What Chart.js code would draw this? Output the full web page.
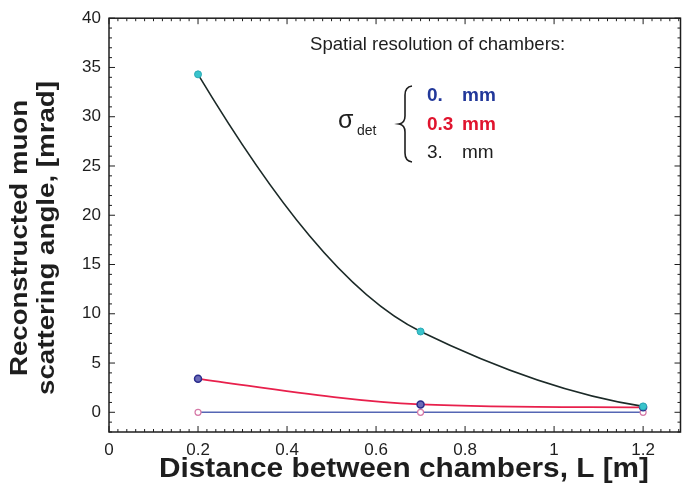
<!DOCTYPE html>
<html>
<head>
<meta charset="utf-8">
<script src="https://cdn.jsdelivr.net/npm/chart.js@4/dist/chart.umd.min.js"></script>
<style>
  html, body { margin: 0; padding: 0; background: #fff; }
  #wrap { width: 686px; height: 494px; }
</style>
</head>
<body>
<div id="wrap"><canvas id="scatterChart" width="686" height="494"></canvas></div>
<script>
// data
const distances = [0.2, 0.7, 1.2];
const angle0mm = [0, 0, 0];
const angle03mm = [3.4, 0.8, 0.5];
const angle3mm = [34.3, 8.2, 0.6];
// curve slopes at each point (mrad per m)
const slope0mm = [0, 0, 0];
const slope03mm = [-6, -2, -0.3];
const slope3mm = [-75, -22, -7];
const xTicks = [0, 0.2, 0.4, 0.6, 0.8, 1, 1.2];
const yTicks = [0, 5, 10, 15, 20, 25, 30, 35, 40];

const FONT = '"Liberation Sans", Arial, Helvetica, sans-serif';
const INK = '#1e1e1e';

function pts(ys) {
    return distances.map((x, i) => ({ x: x, y: ys[i] }));
}

// text squeezed/stretched horizontally to a given width
function wideText(ctx, text, cx, cy, width) {
    const w = ctx.measureText(text).width;
    ctx.save();
    ctx.translate(cx, cy);
    ctx.scale(width / w, 1);
    ctx.fillText(text, 0, 0);
    ctx.restore();
}

// Hermite curve: put bezier handles along the given slopes
const slopePlugin = {
    id: 'slopes',
    beforeDatasetDraw(chart, args) {
        const ds = chart.data.datasets[args.index];
        if (!ds.slopes) return;
        const line = args.meta.dataset;
        const points = args.meta.data;
        line.updateControlPoints(chart.chartArea, 'x');
        const xs = chart.scales.x, ys = chart.scales.y;
        const kx = xs.getPixelForValue(1) - xs.getPixelForValue(0);
        const ky = ys.getPixelForValue(1) - ys.getPixelForValue(0);
        points.forEach((p, i) => {
            const s = ds.slopes[i] * ky / kx;
            const hPrev = i > 0 ? (p.x - points[i - 1].x) / 3 : 0;
            const hNext = i < points.length - 1 ? (points[i + 1].x - p.x) / 3 : 0;
            p.cp1x = p.x - hPrev; p.cp1y = p.y - hPrev * s;
            p.cp2x = p.x + hNext; p.cp2y = p.y + hNext * s;
        });
    }
};

// frame, inward ticks, axis titles and the resolution note
const decorPlugin = {
    id: 'decor',
    afterDraw(chart) {
        const ctx = chart.ctx;
        const a = chart.chartArea;
        const xs = chart.scales.x;
        const ys = chart.scales.y;
        ctx.save();
        ctx.strokeStyle = INK;
        ctx.lineWidth = 1.5;
        ctx.strokeRect(a.left, a.top, a.right - a.left, a.bottom - a.top);

        ctx.lineWidth = 1;
        // x ticks, every 0.02, major every 0.2
        for (let i = 0; i <= 64; i++) {
            const v = i * 0.02;
            if (v > xs.max + 1e-9) break;
            const px = xs.getPixelForValue(v);
            const len = (i % 10 === 0) ? 6 : 3;
            ctx.beginPath();
            ctx.moveTo(px, a.bottom); ctx.lineTo(px, a.bottom - len);
            ctx.moveTo(px, a.top); ctx.lineTo(px, a.top + len);
            ctx.stroke();
        }
        // y ticks, every 1, major every 5
        for (let v = -2; v <= 40; v++) {
            const py = ys.getPixelForValue(v);
            const len = (v % 5 === 0) ? 6 : 3;
            ctx.beginPath();
            ctx.moveTo(a.left, py); ctx.lineTo(a.left + len, py);
            ctx.moveTo(a.right, py); ctx.lineTo(a.right - len, py);
            ctx.stroke();
        }

        // axis titles
        ctx.fillStyle = INK;
        ctx.textAlign = 'center';
        ctx.textBaseline = 'middle';
        ctx.font = 'bold 27px ' + FONT;
        wideText(ctx, 'Distance between chambers, L [m]', 404, 470, 490);

        ctx.save();
        ctx.translate(21, 238);
        ctx.rotate(-Math.PI / 2);
        ctx.font = 'bold 23px ' + FONT;
        wideText(ctx, 'Reconstructed muon', 0, 0, 276);
        wideText(ctx, 'scattering angle, [mrad]', 0, 27, 314);
        ctx.restore();

        // note
        ctx.font = '18.6px ' + FONT;
        ctx.textAlign = 'left';
        ctx.fillStyle = INK;
        ctx.fillText('Spatial resolution of chambers:', 310, 45);

        ctx.font = '25px ' + FONT;
        ctx.fillText('\u03c3', 338, 121);
        ctx.font = '14px ' + FONT;
        ctx.fillText('det', 357, 131);

        // brace
        ctx.lineWidth = 1.6;
        ctx.beginPath();
        ctx.moveTo(412, 86);
        ctx.quadraticCurveTo(405, 87, 405, 95);
        ctx.lineTo(405, 116);
        ctx.quadraticCurveTo(405, 123, 399, 124);
        ctx.quadraticCurveTo(405, 125, 405, 132);
        ctx.lineTo(405, 153);
        ctx.quadraticCurveTo(405, 161, 412, 162);
        ctx.stroke();

        ctx.font = 'bold 19px ' + FONT;
        ctx.fillStyle = '#22389a';
        ctx.fillText('0.', 427, 96);
        ctx.fillText('mm', 462, 96);
        ctx.fillStyle = '#e0142e';
        ctx.fillText('0.3', 427, 125);
        ctx.fillText('mm', 462, 125);
        ctx.font = '19px ' + FONT;
        ctx.fillStyle = INK;
        ctx.fillText('3.', 427, 153);
        ctx.fillText('mm', 462, 153);
        ctx.restore();
    }
};

const ctx = document.getElementById('scatterChart').getContext('2d');
new Chart(ctx, {
    type: 'scatter',
    data: {
        datasets: [{
            label: '3. mm',
            data: pts(angle3mm),
            slopes: slope3mm,
            showLine: true,
            borderColor: '#1c2a28',
            borderWidth: 1.6,
            tension: 0.4,
            pointRadius: 3.5,
            pointBackgroundColor: '#39c4cc',
            pointBorderColor: '#2aa9b5',
            pointBorderWidth: 1
        }, {
            label: '0.3 mm',
            data: pts(angle03mm),
            slopes: slope03mm,
            showLine: true,
            borderColor: '#e8204c',
            borderWidth: 1.8,
            tension: 0.4,
            pointRadius: 3.5,
            pointBackgroundColor: '#6a6ab8',
            pointBorderColor: '#2a2c8c',
            pointBorderWidth: 1.5
        }, {
            label: '0. mm',
            data: pts(angle0mm),
            slopes: slope0mm,
            showLine: true,
            borderColor: '#5566b4',
            borderWidth: 1.5,
            pointRadius: 3,
            pointBackgroundColor: '#ffffff',
            pointBorderColor: '#d67aa8',
            pointBorderWidth: 1.2
        }]
    },
    options: {
        responsive: false,
        animation: false,
        layout: { padding: { top: 15, right: 1.5, left: 0, bottom: 0 } },
        plugins: { legend: { display: false }, tooltip: { enabled: false } },
        scales: {
            x: {
                type: 'linear',
                min: 0,
                max: 1.284,
                grid: { display: false, drawTicks: false },
                border: { display: false },
                afterBuildTicks: s => { s.ticks = xTicks.map(v => ({ value: v })); },
                afterFit: s => { s.height = 62; },
                ticks: {
                    padding: 8,
                    color: INK,
                    font: { family: FONT, size: 17 },
                    maxRotation: 0,
                    callback: v => String(v)
                }
            },
            y: {
                type: 'linear',
                min: -2,
                max: 40,
                grid: { display: false, drawTicks: false },
                border: { display: false },
                afterBuildTicks: s => { s.ticks = yTicks.map(v => ({ value: v })); },
                afterFit: s => { s.width = 109; },
                ticks: {
                    padding: 8,
                    color: INK,
                    font: { family: FONT, size: 17 },
                    callback: v => String(v)
                }
            }
        }
    },
    plugins: [slopePlugin, decorPlugin]
});
</script>
</body>
</html>
